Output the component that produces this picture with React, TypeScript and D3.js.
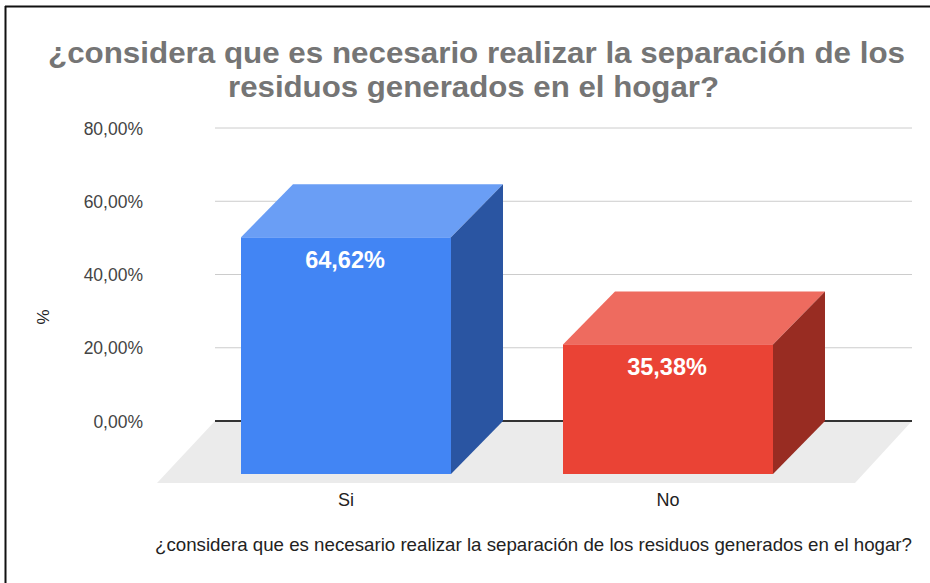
import React from "react";
import * as d3 from "d3";

const categories = ["Si", "No"];
const values = [64.62, 35.38];
const valueLabels = ["64,62%", "35,38%"];
const yTicks = [0, 20, 40, 60, 80];
const tickLabels = ["0,00%", "20,00%", "40,00%", "60,00%", "80,00%"];
const frontColors = ["#4285f4", "#ea4335"];
const topColors = ["#6a9ef5", "#ee6b5f"];
const sideColors = ["#2a55a2", "#982c22"];

const W = 930;
const H = 583;

export default function App() {
  const y = d3.scaleLinear().domain([0, 80]).range([421, 128]);
  const dx = 52;
  const dy = 53;
  const bw = 210;
  const xs = d3.scalePoint().domain(categories).range([346, 668]);

  return (
    <svg
      width={W}
      height={H}
      style={{ position: "absolute", left: 0, top: 0, background: "#fff" }}
      fontFamily="Liberation Sans, Arial, sans-serif"
    >
      <rect x={0} y={0} width={W} height={H} fill="#fff" />
      <line x1={5} y1={6.5} x2={W} y2={6.5} stroke="#111" strokeWidth={2} />
      <line x1={5.5} y1={6} x2={5.5} y2={H} stroke="#111" strokeWidth={2} />

      <text x={476.5} y={63} textAnchor="middle" fontSize={30} fontWeight="bold" fill="#757575"
        textLength={857} lengthAdjust="spacingAndGlyphs">
        ¿considera que es necesario realizar la separación de los
      </text>
      <text x={473.5} y={97} textAnchor="middle" fontSize={30} fontWeight="bold" fill="#757575"
        textLength={491} lengthAdjust="spacingAndGlyphs">
        residuos generados en el hogar?
      </text>

      <polygon points="215,421 912,421 855,483 157,483" fill="#ebebeb" />

      {yTicks.map((t) =>
        t === 0 ? null : (
          <line key={t} x1={215} x2={912} y1={y(t)} y2={y(t)} stroke="#cccccc" strokeWidth={1} />
        )
      )}
      <line x1={215} x2={912} y1={y(0)} y2={y(0)} stroke="#333" strokeWidth={2} />

      {yTicks.map((t, i) => (
        <text key={t} x={143} y={y(t) + 6.5} textAnchor="end" fontSize={17.5} fill="#444">
          {tickLabels[i]}
        </text>
      ))}
      <text transform="translate(49,317) rotate(-90)" textAnchor="middle" fontSize={17} fill="#222">
        %
      </text>

      {categories.map((c, i) => {
        const cx = xs(c)!;
        const fx0 = cx - bw / 2;
        const fx1 = cx + bw / 2;
        const bx0 = fx0 + dx;
        const bx1 = fx1 + dx;
        const btop = y(values[i]);
        const b0 = y(0);
        const ftop = btop + dy;
        const f0 = b0 + dy;
        return (
          <g key={c}>
            <polygon points={`${fx0},${ftop} ${bx0},${btop} ${bx1},${btop} ${fx1},${ftop}`} fill={topColors[i]} />
            <polygon points={`${fx1},${ftop} ${bx1},${btop} ${bx1},${b0} ${fx1},${f0}`} fill={sideColors[i]} />
            <rect x={fx0} y={ftop} width={bw} height={f0 - ftop} fill={frontColors[i]} />
            <text x={cx - 1} y={ftop + 31} textAnchor="middle" fontSize={23.5} fontWeight="bold" fill="#fff">
              {valueLabels[i]}
            </text>
            <text x={cx} y={506} textAnchor="middle" fontSize={18} fill="#222">
              {c}
            </text>
          </g>
        );
      })}

      <text x={533.5} y={551} textAnchor="middle" fontSize={18.5} fill="#222"
        textLength={757} lengthAdjust="spacingAndGlyphs">
        ¿considera que es necesario realizar la separación de los residuos generados en el hogar?
      </text>
    </svg>
  );
}
